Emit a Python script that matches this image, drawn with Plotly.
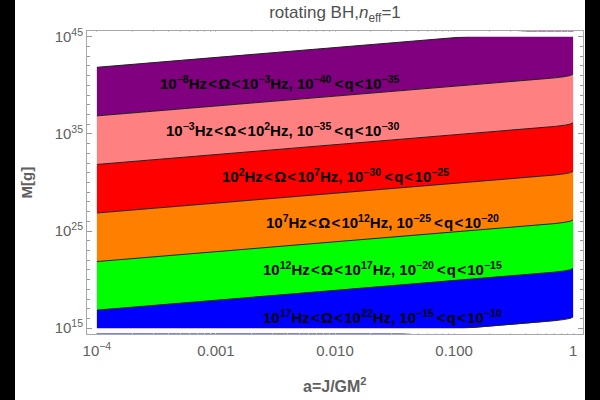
import numpy as np
import plotly.graph_objects as go

# spin parameter a = J/GM^2 at which the band boundaries were read
a_vals = [1e-4, 1e-3, 1e-2, 0.05, 0.1, 0.2, 0.3, 0.5, 0.7, 0.85, 0.95, 1.0]

# log10(M [g]) of each band boundary (Omega boundary in Hz)
b_m8 = [41.86, 42.86, 43.86, 44.55, 44.86, 45.16, 45.34, 45.58, 45.77, 45.90, 46.02, 46.16]
b_m3 = [36.86, 37.86, 38.86, 39.55, 39.86, 40.16, 40.34, 40.58, 40.77, 40.90, 41.02, 41.16]
b_p2 = [31.86, 32.86, 33.86, 34.55, 34.86, 35.16, 35.34, 35.58, 35.77, 35.90, 36.02, 36.16]
b_p7 = [26.86, 27.86, 28.86, 29.55, 29.86, 30.16, 30.34, 30.58, 30.77, 30.90, 31.02, 31.16]
b_p12 = [21.86, 22.86, 23.86, 24.55, 24.86, 25.16, 25.34, 25.58, 25.77, 25.90, 26.02, 26.16]
b_p17 = [16.86, 17.86, 18.86, 19.55, 19.86, 20.16, 20.34, 20.58, 20.77, 20.90, 21.02, 21.16]
b_p22 = [11.86, 12.86, 13.86, 14.55, 14.86, 15.16, 15.34, 15.58, 15.77, 15.90, 16.02, 16.16]

boundaries = [b_m8, b_m3, b_p2, b_p7, b_p12, b_p17, b_p22]
band_colors = ["#800080", "#FF8080", "#FF0000", "#FF8000", "#00FF00", "#0000FF"]

LT = "\u200a&lt;\u200a"
LQ = "\u2009&lt;\u200a"
band_labels = [
    f"10<sup>−8</sup>Hz{LT}Ω{LT}10<sup>−3</sup>Hz, 10<sup>−40</sup>{LQ}q{LT}10<sup>−35</sup>",
    f"10<sup>−3</sup>Hz{LT}Ω{LT}10<sup>2</sup>Hz, 10<sup>−35</sup>{LQ}q{LT}10<sup>−30</sup>",
    f"10<sup>2</sup>Hz{LT}Ω{LT}10<sup>7</sup>Hz, 10<sup>−30</sup>{LQ}q{LT}10<sup>−25</sup>",
    f"10<sup>7</sup>Hz{LT}Ω{LT}10<sup>12</sup>Hz, 10<sup>−25</sup>{LQ}q{LT}10<sup>−20</sup>",
    f"10<sup>12</sup>Hz{LT}Ω{LT}10<sup>17</sup>Hz, 10<sup>−20</sup>{LQ}q{LT}10<sup>−15</sup>",
    f"10<sup>17</sup>Hz{LT}Ω{LT}10<sup>22</sup>Hz, 10<sup>−15</sup>{LQ}q{LT}10<sup>−10</sup>",
]
# label centre positions (log10 a, log10 M)
label_pos = [(-2.46, 40.3), (-2.44, 35.45), (-2.0, 30.7), (-1.6, 25.95), (-1.6, 21.1), (-1.6, 16.2)]

x_tickvals = [1e-4, 1e-3, 1e-2, 1e-1, 1.0]
x_ticktext = ["10<sup>−4</sup>", "0.001", "0.010", "0.100", "1"]
y_tickvals = [1e15, 1e25, 1e35, 1e45]
y_ticktext = ["10<sup>15</sup>", "10<sup>25</sup>", "10<sup>35</sup>", "10<sup>45</sup>"]

a = np.array(a_vals, dtype=float)
fig = go.Figure()

for i, col in enumerate(band_colors):
    up = 10.0 ** np.array(boundaries[i], dtype=float)
    lo = 10.0 ** np.array(boundaries[i + 1], dtype=float)
    xs = np.concatenate([a, a[::-1]])
    ys = np.concatenate([up, lo[::-1]])
    fig.add_trace(go.Scatter(x=xs, y=ys, mode="lines", fill="toself", fillcolor=col,
                             line=dict(width=0, color=col), hoverinfo="skip", showlegend=False))

for b in boundaries:
    fig.add_trace(go.Scatter(x=a, y=10.0 ** np.array(b, dtype=float), mode="lines",
                             line=dict(width=1, color="#222222"), hoverinfo="skip", showlegend=False))

FONT = "Liberation Sans, Arial, sans-serif"
GRAY = "#606060"

# clip the regions to 1e15 <= M <= 1e45 (plot range of the original)
fig.add_shape(type="rect", xref="x", yref="y", x0=1e-4 * 0.97, x1=1.03, y0=1e45, y1=10.0 ** 45.56,
              fillcolor="white", line=dict(width=0), layer="above")
fig.add_shape(type="rect", xref="x", yref="y", x0=1e-4 * 0.97, x1=1.03, y0=10.0 ** 14.44, y1=1e15,
              fillcolor="white", line=dict(width=0), layer="above")

for txt, (lx, ly) in zip(band_labels, label_pos):
    fig.add_annotation(x=lx, y=ly, xref="x", yref="y", text="<b>" + txt + "</b>", showarrow=False,
                       font=dict(family=FONT, size=15, color="black"), xanchor="center", yanchor="middle")

# axis titles
fig.add_annotation(x=0.0, y=0.5, xref="paper", yref="paper", text="<b>M[g]</b>", textangle=-90,
                   showarrow=False, font=dict(family=FONT, size=15, color=GRAY), xshift=-61,
                   xanchor="center", yanchor="middle")
fig.add_annotation(x=0.5, y=0, xref="paper", yref="paper", text="<b>a=J/GM<sup>2</sup></b>",
                   showarrow=False, font=dict(family=FONT, size=16, color=GRAY), yshift=-51,
                   xanchor="center", yanchor="middle")

# black bars at the left and right edges of the image
W = 496.0
fig.add_shape(type="rect", xref="paper", yref="paper", x0=-87 / W, x1=-72 / W, y0=-0.3, y1=1.2,
              fillcolor="black", line=dict(width=0), layer="above")
fig.add_shape(type="rect", xref="paper", yref="paper", x0=1 + 2 / W, x1=1 + 20 / W, y0=-0.3, y1=1.2,
              fillcolor="black", line=dict(width=0), layer="above")

x_minor = [float(m) * 10.0 ** e for e in range(-4, 0) for m in range(2, 10)]
y_minor = [10.0 ** e for e in range(15, 46)]

fig.update_xaxes(type="log", range=[-4.083, 0.083], tickmode="array", tickvals=x_tickvals,
                 ticktext=x_ticktext, ticks="inside", ticklen=5, tickcolor="#999999",
                 showline=True, linecolor="#a8a8a8", linewidth=1, mirror="allticks",
                 showgrid=False, zeroline=False, ticklabelstandoff=3,
                 tickfont=dict(family=FONT, size=15, color=GRAY),
                 minor=dict(tickmode="array", tickvals=x_minor, ticks="inside", ticklen=3,
                            tickcolor="#999999", showgrid=False))
fig.update_yaxes(type="log", range=[14.4, 45.6], tickmode="array", tickvals=y_tickvals,
                 ticktext=y_ticktext, ticks="inside", ticklen=5, tickcolor="#999999",
                 showline=True, linecolor="#a8a8a8", linewidth=1, mirror="allticks",
                 showgrid=False, zeroline=False,
                 tickfont=dict(family=FONT, size=15, color=GRAY),
                 minor=dict(tickmode="array", tickvals=y_minor, ticks="inside", ticklen=3,
                            tickcolor="#999999", showgrid=False))

fig.update_layout(
    width=600, height=400,
    margin=dict(l=87, r=17, t=31, b=66, autoexpand=False),
    paper_bgcolor="white", plot_bgcolor="white",
    title=dict(text="rotating BH,<i>n</i><sub>eff</sub>=1", x=0.5, xref="paper",
               y=1 - 12 / 400, yref="container", yanchor="middle",
               font=dict(family=FONT, size=17, color="#505050")),
    showlegend=False,
)

fig.write_html("out.html")
